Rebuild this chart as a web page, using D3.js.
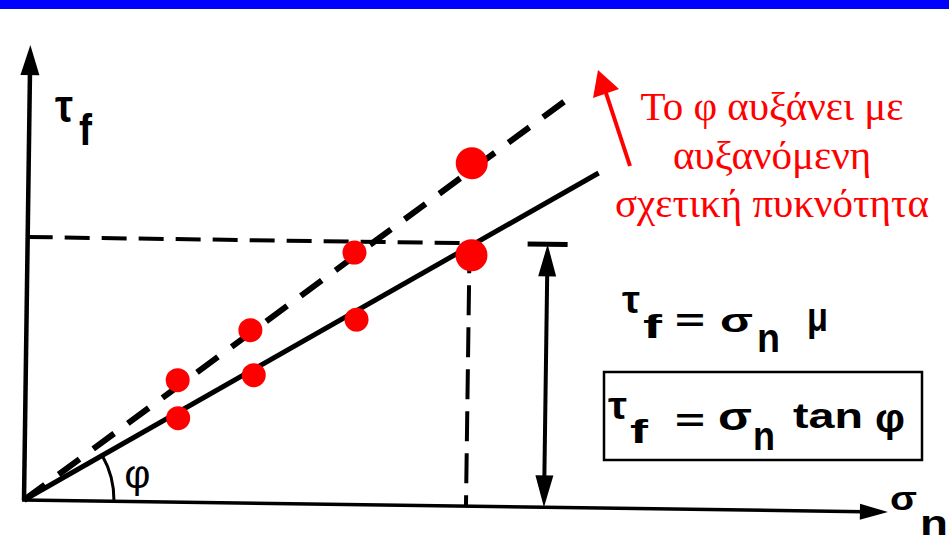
<!DOCTYPE html>
<html lang="el">
<head>
<meta charset="UTF-8">
<title>Γωνία τριβής φ</title>
<script src="https://d3js.org/d3.v7.min.js"></script>
<style>
  html, body { margin: 0; padding: 0; background: #fff; }
  svg { display: block; }
</style>
</head>
<body>
<script>
// measured points (σn, τf) — arbitrary units
const sigmaLoose = [1.53, 2.28, 3.30, 4.44];
const tauLoose   = [0.84, 1.28, 1.85, 2.51];
const sigmaDense = [1.52, 2.24, 3.27, 4.43];
const tauDense   = [1.22, 1.73, 2.52, 3.43];
const bigPoint   = [false, false, false, true];

// failure lines through origin
const looseLine = { sigma: [0, 5.70], tau: [0, 3.35] };
const denseLine = { sigma: [0, 5.36], tau: [0, 4.07] };

// reading of τf for a given σn
const sigmaStar = 4.42, tauStar = 2.63;
const sigmaArrow = 5.2;
const sigmaMax = 8.64, tauMax = 4.55;

const noteLines = ["Το φ αυξάνει με", "αυξανόμενη", "σχετική πυκνότητα"];

const W = 949, H = 548;
const svg = d3.select("body").append("svg").attr("width", W).attr("height", H);

// top blue bar
svg.append("rect").attr("x", 0).attr("y", 0).attr("width", W).attr("height", 9).attr("fill", "#0000ff");

const x = d3.scaleLinear().domain([0, 1]).range([0, 100]);
const y = d3.scaleLinear().domain([0, 1]).range([0, -100]);

// the scanned diagram is tilted slightly
const g = svg.append("g").attr("transform", "translate(24,500) rotate(0.8)");

// axes
g.append("line").attr("x1", x(0)).attr("y1", y(0)).attr("x2", x(0)).attr("y2", y(tauMax) + 25)
  .attr("stroke", "#000").attr("stroke-width", 4.5);
g.append("path")
  .attr("d", `M${x(0)},${y(tauMax)} L${x(0) - 9.5},${y(tauMax) + 30} L${x(0) + 9.5},${y(tauMax) + 30} Z`)
  .attr("fill", "#000");
g.append("line").attr("x1", x(0) - 2).attr("y1", y(0)).attr("x2", x(sigmaMax) - 24).attr("y2", y(0))
  .attr("stroke", "#000").attr("stroke-width", 3.5);
g.append("path")
  .attr("d", `M${x(sigmaMax)},${y(0)} L${x(sigmaMax) - 28},${y(0) - 8} L${x(sigmaMax) - 28},${y(0) + 8} Z`)
  .attr("fill", "#000");

// reference dashed lines
g.append("line").attr("x1", x(0)).attr("y1", y(tauStar)).attr("x2", x(sigmaStar)).attr("y2", y(tauStar))
  .attr("stroke", "#000").attr("stroke-width", 4).attr("stroke-dasharray", "25 12");
g.append("line").attr("x1", x(sigmaStar)).attr("y1", y(tauStar)).attr("x2", x(sigmaStar)).attr("y2", y(0))
  .attr("stroke", "#000").attr("stroke-width", 4).attr("stroke-dasharray", "30 12");

// failure lines
const line = d3.line().x(d => x(d[0])).y(d => y(d[1]));
g.append("path").datum(d3.zip(looseLine.sigma, looseLine.tau)).attr("d", line)
  .attr("fill", "none").attr("stroke", "#000").attr("stroke-width", 5);
g.append("path").datum(d3.zip(denseLine.sigma, denseLine.tau)).attr("d", line)
  .attr("fill", "none").attr("stroke", "#000").attr("stroke-width", 6).attr("stroke-dasharray", "26 17");

// angle φ
const phi = Math.atan(looseLine.tau[1] / looseLine.sigma[1]);
const arc = d3.path();
arc.moveTo(x(0.9), y(0));
arc.arc(x(0), y(0), x(0.9), 0, -phi, true);
g.append("path").attr("d", arc.toString()).attr("fill", "none").attr("stroke", "#000").attr("stroke-width", 3);
g.append("text").attr("x", x(1.0)).attr("y", y(0.14))
  .attr("textLength", 26).attr("lengthAdjust", "spacingAndGlyphs")
  .attr("font-family", "Liberation Sans, Arial, sans-serif").attr("font-size", 40).text("φ");

// double arrow for τf
const ax = x(sigmaArrow);
g.append("line").attr("x1", ax).attr("y1", y(tauStar) + 25).attr("x2", ax).attr("y2", y(0) - 25)
  .attr("stroke", "#000").attr("stroke-width", 4);
g.append("line").attr("x1", x(sigmaArrow - 0.2)).attr("y1", y(tauStar)).attr("x2", x(sigmaArrow + 0.2)).attr("y2", y(tauStar))
  .attr("stroke", "#000").attr("stroke-width", 5);
g.append("path")
  .attr("d", `M${ax},${y(tauStar)} L${ax - 9},${y(tauStar) + 32} L${ax + 9},${y(tauStar) + 32} Z`)
  .attr("fill", "#000");
g.append("path")
  .attr("d", `M${ax},${y(0)} L${ax - 9},${y(0) - 32} L${ax + 9},${y(0) - 32} Z`)
  .attr("fill", "#000");

// data points
const pts = sigmaLoose.map((s, i) => ({ s, t: tauLoose[i], big: bigPoint[i] }))
  .concat(sigmaDense.map((s, i) => ({ s, t: tauDense[i], big: bigPoint[i] })));
g.selectAll(".pt").data(pts).enter().append("circle")
  .attr("class", "pt")
  .attr("cx", d => x(d.s)).attr("cy", d => y(d.t))
  .attr("r", d => d.big ? 16 : 12)
  .attr("fill", "#ff0000");

// glyph helper: left, right, baseline, size
function glyph(txt, left, right, base, size, weight) {
  svg.append("text").attr("x", left).attr("y", base)
    .attr("font-family", "Liberation Sans, Arial, sans-serif")
    .attr("font-weight", weight || "bold").attr("font-size", size)
    .attr("textLength", right - left).attr("lengthAdjust", "spacingAndGlyphs")
    .text(txt);
}

// axis labels
glyph("τ", 55, 73, 122, 46);
glyph("f", 79, 92, 145, 44);
glyph("σ", 890, 917, 510, 34);
glyph("n", 920, 948, 535, 35);

// formulas
glyph("τ", 622, 640, 313, 38);
glyph("f", 643, 662, 338, 33);
glyph("=", 675, 705, 331, 32);
glyph("σ", 720, 753, 332, 34);
glyph("n", 757, 780, 352, 40);
glyph("μ", 807, 828, 331, 40);

svg.append("rect").attr("x", 604).attr("y", 372).attr("width", 318).attr("height", 88)
  .attr("fill", "none").attr("stroke", "#000").attr("stroke-width", 2.5);
glyph("τ", 608, 627, 419, 38);
glyph("f", 630, 648, 443, 33);
glyph("=", 675, 705, 431, 32);
glyph("σ", 718, 752, 430, 38);
glyph("n", 753, 775, 450, 40);
glyph("tan", 793, 863, 428, 35);
glyph("φ", 875, 905, 432, 40);

// red note
svg.append("line").attr("x1", 630).attr("y1", 166).attr("x2", 605).attr("y2", 90)
  .attr("stroke", "#ff0000").attr("stroke-width", 4);
svg.append("path").attr("d", "M598,70 L593,98 L619,89 Z").attr("fill", "#ff0000");
svg.append("g").selectAll("text").data(noteLines).enter().append("text")
  .attr("x", 772).attr("y", (d, i) => 120 + i * 48.5)
  .attr("text-anchor", "middle")
  .attr("font-family", "Liberation Serif, 'Times New Roman', serif")
  .attr("font-size", 41).attr("fill", "#ff0000")
  .text(d => d);
</script>
</body>
</html>
